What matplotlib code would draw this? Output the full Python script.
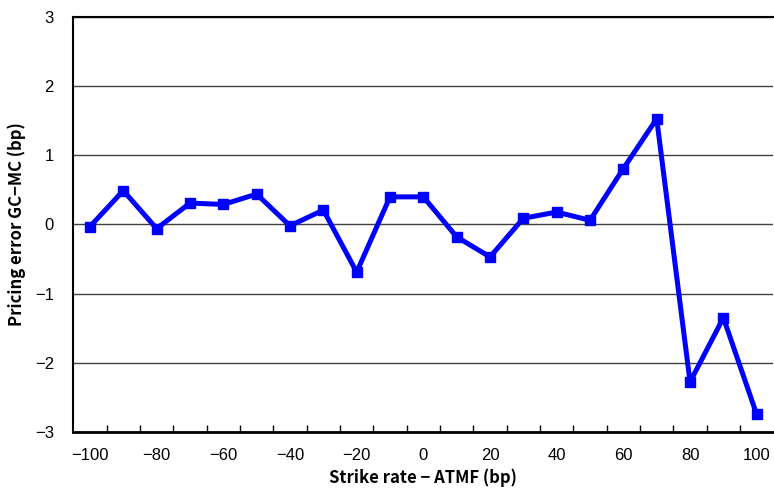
import matplotlib
matplotlib.use("Agg")
import matplotlib.pyplot as plt
from matplotlib.ticker import FixedLocator

# strike offsets from ATM forward (bp) and GC-MC pricing error (bp)
strikes = [-100, -90, -80, -70, -60, -50, -40, -30, -20, -10, 0,
           10, 20, 30, 40, 50, 60, 70, 80, 90, 100]
errors = [-0.03, 0.49, -0.06, 0.31, 0.29, 0.44, -0.02, 0.21, -0.69, 0.40, 0.40,
          -0.18, -0.47, 0.09, 0.18, 0.06, 0.81, 1.53, -2.28, -1.35, -2.75]
xtick_labels = [-100, -80, -60, -40, -20, 0, 20, 40, 60, 80, 100]
ytick_labels = [-3, -2, -1, 0, 1, 2, 3]

label_font = ["Noto Sans CJK JP", "DejaVu Sans"]

fig = plt.figure(figsize=(7.74, 4.93), dpi=100)
ax = fig.add_axes([0.0947, 0.1243, 0.9045, 0.8407])

ax.plot(strikes, errors, color="#0000ff", lw=3.6, marker="s", ms=7,
        mec="#0000ff", mfc="#0000ff", zorder=3)

ax.set_xlim(-105, 105)
ax.set_ylim(-3, 3)

# category-style axis: labels on every other category, tick marks between
ax.set_xticks(xtick_labels)
ax.set_xticklabels([f"\u2212{abs(v)}" if v < 0 else str(v) for v in xtick_labels])
ax.xaxis.set_minor_locator(FixedLocator([s + 5 for s in strikes[:-1]]))
ax.tick_params(axis="x", which="major", length=0, pad=12, labelsize=12)
ax.tick_params(axis="x", which="minor", length=5, width=1, direction="in",
               color="black")

ax.set_yticks(ytick_labels)
ax.set_yticklabels([f"\u2212{abs(v)}" if v < 0 else str(v) for v in ytick_labels])
ax.tick_params(axis="y", length=0, pad=14, labelsize=12)

for lab in ax.get_xticklabels() + ax.get_yticklabels():
    lab.set_fontfamily("Liberation Sans")

ax.yaxis.grid(True, color="#404040", lw=1)
ax.set_axisbelow(True)

ax.spines["right"].set_visible(False)
ax.spines["top"].set_linewidth(1.5)
ax.spines["left"].set_linewidth(1.5)
ax.spines["bottom"].set_linewidth(2)

ax.set_xlabel("Strike rate \u2212 ATMF (bp)", fontsize=12, fontweight="bold",
              family=label_font, labelpad=4)
ax.set_ylabel("Pricing error GC\u2212MC (bp)", fontsize=12, fontweight="bold",
              family=label_font, labelpad=6)

fig.savefig("out.png", dpi=100)
